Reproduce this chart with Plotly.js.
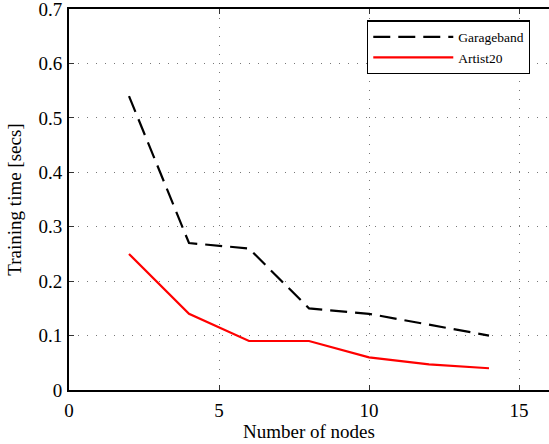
<!DOCTYPE html>
<html>
<head>
<meta charset="utf-8">
<script src="https://cdn.plot.ly/plotly-3.0.1.min.js"></script>
<style>html,body{margin:0;padding:0;background:#fff;}#chart{width:549px;height:444px;}</style>
</head>
<body>
<div id="chart"></div>
<script>
var nodes = [2, 4, 6, 8, 10, 12, 14];
var garageband = [0.54, 0.27, 0.26, 0.15, 0.14, 0.12, 0.10];
var artist20 = [0.25, 0.14, 0.09, 0.09, 0.06, 0.047, 0.04];
var xTicks = [0, 5, 10, 15];
var yTicks = [0, 0.1, 0.2, 0.3, 0.4, 0.5, 0.6, 0.7];

var font = "Times New Roman, Liberation Serif, serif";

var traces = [
  {x: nodes, y: garageband, name: 'Garageband', mode: 'lines', type: 'scatter',
   line: {color: '#000000', width: 2.2, dash: '17px,8px'}},
  {x: nodes, y: artist20, name: 'Artist20', mode: 'lines', type: 'scatter',
   line: {color: '#ff0000', width: 2.2}}
];

var layout = {
  width: 549, height: 444,
  margin: {l: 69, r: 0, t: 9, b: 54},
  paper_bgcolor: '#ffffff', plot_bgcolor: '#ffffff',
  font: {family: font, size: 19, color: '#000000'},
  showlegend: true,
  legend: {
    x: 0.621, y: 0.97, xanchor: 'left', yanchor: 'top',
    bordercolor: '#000000', borderwidth: 1.2, bgcolor: '#ffffff',
    font: {family: font, size: 13.5, color: '#000'},
    itemwidth: 80, tracegroupgap: 0
  },
  xaxis: {
    range: [0, 16], tickvals: xTicks, ticktext: xTicks.map(String),
    tickfont: {family: font, size: 19, color: '#000'},
    ticklabeloverflow: 'allow',
    ticks: 'inside', ticklen: 5, tickwidth: 1, tickcolor: '#333',
    showline: true, linecolor: '#000', linewidth: 2, mirror: 'ticks',
    showgrid: true, gridcolor: '#777', gridwidth: 1, griddash: '1px,8px',
    zeroline: false, ticklabelstandoff: 2,
    title: {text: 'Number of nodes', font: {family: font, size: 19}, standoff: 3}
  },
  yaxis: {
    range: [0, 0.7], tickvals: yTicks, ticktext: yTicks.map(function(v){return v === 0 ? '0' : v.toFixed(1);}),
    tickfont: {family: font, size: 19, color: '#000'},
    ticklabeloverflow: 'allow',
    ticks: 'inside', ticklen: 5, tickwidth: 1, tickcolor: '#333',
    showline: true, linecolor: '#000', linewidth: 2, mirror: false,
    showgrid: true, gridcolor: '#777', gridwidth: 1, griddash: '1px,8px',
    zeroline: false, ticklabelstandoff: 1,
    title: {text: 'Training time [secs]', font: {family: font, size: 19}, standoff: 12}
  }
};

Plotly.newPlot('chart', traces, layout, {displayModeBar: false, staticPlot: true});
</script>
</body>
</html>
